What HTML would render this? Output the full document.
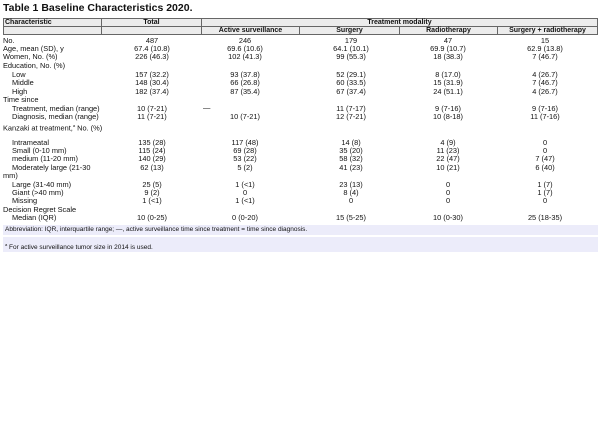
<!DOCTYPE html>
<html><head><meta charset="utf-8"><style>
body{margin:0;width:600px;height:436px;background:#fff;font-family:"Liberation Sans",Arial,sans-serif;color:#111;position:relative;overflow:hidden}
.t{position:absolute;left:3px;top:2px;font-size:10.5px;font-weight:bold;white-space:nowrap}
.h{position:absolute;background:#ececec;border:1px solid #666;box-sizing:border-box;font-size:7px;font-weight:bold;line-height:7px;text-align:center;white-space:nowrap}
.r{position:absolute;font-size:7.4px;line-height:8px;white-space:nowrap}
.c{position:absolute;font-size:7.4px;line-height:8px;white-space:nowrap;transform:translateX(-50%)}
.fn{position:absolute;left:3px;width:595px;background:#ececfa}
</style></head><body>
<div class="t">Table 1 Baseline Characteristics 2020.</div>
<div class="h" style="left:3px;top:18px;width:99px;height:9px;text-align:left;padding-left:1px">Characteristic</div>
<div class="h" style="left:101px;top:18px;width:101px;height:9px">Total</div>
<div class="h" style="left:201px;top:18px;width:397px;height:9px">Treatment modality</div>
<div class="h" style="left:3px;top:26px;width:99px;height:9px"></div>
<div class="h" style="left:101px;top:26px;width:101px;height:9px"></div>
<div class="h" style="left:201px;top:26px;width:99px;height:9px">Active surveillance</div>
<div class="h" style="left:299px;top:26px;width:101px;height:9px">Surgery</div>
<div class="h" style="left:399px;top:26px;width:99px;height:9px">Radiotherapy</div>
<div class="h" style="left:497px;top:26px;width:101px;height:9px">Surgery + radiotherapy</div>

<div class="fn" style="top:225px;height:10px"></div>
<div class="fn" style="top:237px;height:15px"></div>
<div class="r" style="left:5px;top:226px;font-size:6.5px">Abbreviation: IQR, interquartile range; —, active surveillance time since treatment = time since diagnosis.</div>
<div class="r" style="left:5px;top:241px;font-size:6.5px"><sup style="font-size:4px">a</sup> For active surveillance tumor size in 2014 is used.</div>

<div id="rows"></div>
<script>
const rows=[
[37,"No.","487","246","179","47","15"],
[45,"Age, mean (SD), y","67.4 (10.8)","69.6 (10.6)","64.1 (10.1)","69.9 (10.7)","62.9 (13.8)"],
[53,"Women, No. (%)","226 (46.3)","102 (41.3)","99 (55.3)","18 (38.3)","7 (46.7)"],
[62,"Education, No. (%)"],
[71,"  Low","157 (32.2)","93 (37.8)","52 (29.1)","8 (17.0)","4 (26.7)"],
[79,"  Middle","148 (30.4)","66 (26.8)","60 (33.5)","15 (31.9)","7 (46.7)"],
[88,"  High","182 (37.4)","87 (35.4)","67 (37.4)","24 (51.1)","4 (26.7)"],
[96,"Time since"],
[105,"  Treatment, median (range)","10 (7-21)","","11 (7-17)","9 (7-16)","9 (7-16)"],
[113,"  Diagnosis, median (range)","11 (7-21)","10 (7-21)","12 (7-21)","10 (8-18)","11 (7-16)"],
[122,"Kanzaki at treatment,<sup style='font-size:4px'>a</sup> No. (%)"],
[139,"  Intrameatal","135 (28)","117 (48)","14 (8)","4 (9)","0"],
[147,"  Small (0-10 mm)","115 (24)","69 (28)","35 (20)","11 (23)","0"],
[155,"  medium (11-20 mm)","140 (29)","53 (22)","58 (32)","22 (47)","7 (47)"],
[164,"  Moderately large (21-30","62 (13)","5 (2)","41 (23)","10 (21)","6 (40)"],
[172,"mm)"],
[181,"  Large (31-40 mm)","25 (5)","1 (<1)","23 (13)","0","1 (7)"],
[189,"  Giant (>40 mm)","9 (2)","0","8 (4)","0","1 (7)"],
[197,"  Missing","1 (<1)","1 (<1)","0","0","0"],
[206,"Decision Regret Scale"],
[214,"  Median (IQR)","10 (0-25)","0 (0-20)","15 (5-25)","10 (0-30)","25 (18-35)"]
];
const cx=[152,245,351,448,545];
let h="";
for(const r of rows){
 let lab=r[1];let ind=0;if(lab.startsWith("  ")){ind=9;lab=lab.slice(2);}
 if(lab.indexOf("<sup")<0) lab=lab.replace(/</g,"&lt;").replace(/>/g,"&gt;");
 h+=`<div class="r" style="left:${3+ind}px;top:${r[0]}px">${lab}</div>`;
 for(let i=0;i<5;i++){if(r[i+2]){h+=`<div class="c" style="left:${cx[i]}px;top:${r[0]}px">${r[i+2].replace(/</g,"&lt;").replace(/>/g,"&gt;")}</div>`;}}
}
h+=`<div class="r" style="left:203px;top:104px">—</div>`;
document.getElementById("rows").innerHTML=h;
</script>
</body></html>
